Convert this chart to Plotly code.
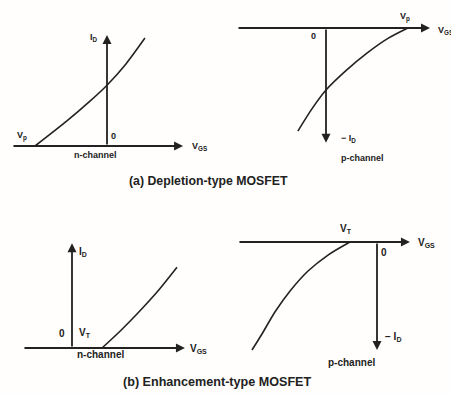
import plotly.graph_objects as go

# ---------------- data (V in volts, I in mA) ----------------
# (a) depletion, n-channel
dn_vgs = [-3.0, -1.67, -0.71, 0.0, 0.79, 1.58]
dn_id = [0.0, 3.3, 5.9, 8.0, 10.8, 14.2]
dn_vgs_axis = [-3.96, 3.17]
dn_id_axis = [0.0, 14.6]
# (a) depletion, p-channel
dp_vgs = [3.0, 2.27, 1.5, 0.73, 0.0, -0.51, -1.03]
dp_id = [0.0, -1.34, -3.24, -5.5, -8.0, -10.4, -13.3]
dp_vgs_axis = [-3.26, 3.81]
dp_id_axis = [0.0, -14.8]
# (b) enhancement, n-channel
en_vgs = [2.0, 3.2, 4.33, 5.67, 7.0]
en_id = [0.0, 2.1, 4.25, 7.0, 10.1]
en_vgs_axis = [-3.27, 7.53]
en_id_axis = [0.0, 13.1]
# (b) enhancement, p-channel
ep_vgs = [-2.0, -3.63, -5.11, -6.44, -7.56, -8.52, -9.26]
ep_id = [0.0, -1.63, -3.63, -6.13, -8.75, -11.5, -13.5]
ep_vgs_axis = [-10.3, 2.44]
ep_id_axis = [0.0, -13.5]

captions = ["(a) Depletion-type MOSFET", "(b) Enhancement-type MOSFET"]

# ---------------- layout geometry (pixels) ----------------
W, H = 451, 394
INK = "#222222"
FONT = "Liberation Sans, Arial, sans-serif"

panels = [
    dict(vgs=dn_vgs, idv=dn_id, xa=dn_vgs_axis, ya=dn_id_axis,
         box=(0, 0, 225, 175), origin=(107, 146), sx=24.0, sy=7.6),
    dict(vgs=dp_vgs, idv=dp_id, xa=dp_vgs_axis, ya=dp_id_axis,
         box=(225, 0, 451, 175), origin=(326, 28), sx=27.3, sy=7.75),
    dict(vgs=en_vgs, idv=en_id, xa=en_vgs_axis, ya=en_id_axis,
         box=(0, 190, 225, 375), origin=(72, 348), sx=15.0, sy=8.0),
    dict(vgs=ep_vgs, idv=ep_id, xa=ep_vgs_axis, ya=ep_id_axis,
         box=(225, 190, 451, 375), origin=(377, 242), sx=13.5, sy=8.0),
]

def px(x, y):
    return x / W, 1 - y / H

fig = go.Figure()
annotations = []
layout = {}
for i, p in enumerate(panels, start=1):
    sfx = "" if i == 1 else str(i)
    xr, yr = "x" + sfx, "y" + sfx
    bx0, by0, bx1, by1 = p["box"]
    ox, oy = p["origin"]
    layout["xaxis" + sfx] = dict(
        domain=[bx0 / W, bx1 / W],
        range=[(bx0 - ox) / p["sx"], (bx1 - ox) / p["sx"]],
        visible=False, anchor=yr)
    layout["yaxis" + sfx] = dict(
        domain=[1 - by1 / H, 1 - by0 / H],
        range=[(oy - by1) / p["sy"], (oy - by0) / p["sy"]],
        visible=False, anchor=xr)
    fig.add_trace(go.Scatter(x=p["vgs"], y=p["idv"], mode="lines",
                             line=dict(color=INK, width=1.6, shape="spline",
                                       smoothing=0.8),
                             xaxis=xr, yaxis=yr, showlegend=False,
                             hoverinfo="skip", cliponaxis=False))
    # V_GS axis (horizontal) with arrow
    annotations.append(dict(x=p["xa"][1], y=0, ax=p["xa"][0], ay=0,
                            xref=xr, yref=yr, axref=xr, ayref=yr, text="",
                            showarrow=True, arrowhead=2, arrowsize=1.0,
                            arrowwidth=1.8, arrowcolor=INK, standoff=0))
    # I_D axis (vertical) with arrow
    annotations.append(dict(x=0, y=p["ya"][1], ax=0, ay=p["ya"][0],
                            xref=xr, yref=yr, axref=xr, ayref=yr, text="",
                            showarrow=True, arrowhead=2, arrowsize=1.0,
                            arrowwidth=1.8, arrowcolor=INK, standoff=0))

def label(text, x, y, size=9.0, xanchor="center", bold=True):
    fx, fy = px(x, y)
    annotations.append(dict(x=fx, y=fy, xref="paper", yref="paper",
                            text=text, showarrow=False, xanchor=xanchor,
                            yanchor="middle",
                            font=dict(family=FONT, size=size, color=INK,
                                      weight="bold" if bold else "normal")))

# panel (a) n-channel
label("I<sub>D</sub>", 94, 38)
label("V<sub>p</sub>", 22, 136)
label("0", 113, 136)
label("V<sub>GS</sub>", 190, 147, xanchor="left")
label("n-channel", 95, 155)
# panel (a) p-channel
label("V<sub>p</sub>", 405, 17)
label("V<sub>GS</sub>", 436, 30, xanchor="left")
label("0", 313, 36)
label("\u2212 I<sub>D</sub>", 348, 138)
label("p-channel", 362, 158)
# panel (b) n-channel
label("I<sub>D</sub>", 83, 252, size=10)
label("0", 62, 333, size=10)
label("V<sub>T</sub>", 85, 333, size=10)
label("V<sub>GS</sub>", 188, 349, size=10, xanchor="left")
label("n-channel", 100, 354, size=10)
# panel (b) p-channel
label("V<sub>T</sub>", 346, 229, size=10)
label("0", 384, 252, size=10)
label("V<sub>GS</sub>", 416, 243, size=10, xanchor="left")
label("\u2212 I<sub>D</sub>", 383, 337, size=10, xanchor="left")
label("p-channel", 351, 362, size=10)
# captions
label(captions[0], 208, 181, size=12.3)
label(captions[1], 217, 382, size=12.6)

fig.update_layout(**layout)
fig.update_layout(width=W, height=H, margin=dict(l=0, r=0, t=0, b=0),
                  paper_bgcolor="#fffefc", plot_bgcolor="rgba(0,0,0,0)",
                  annotations=annotations, showlegend=False)
fig.write_html("out.html")
